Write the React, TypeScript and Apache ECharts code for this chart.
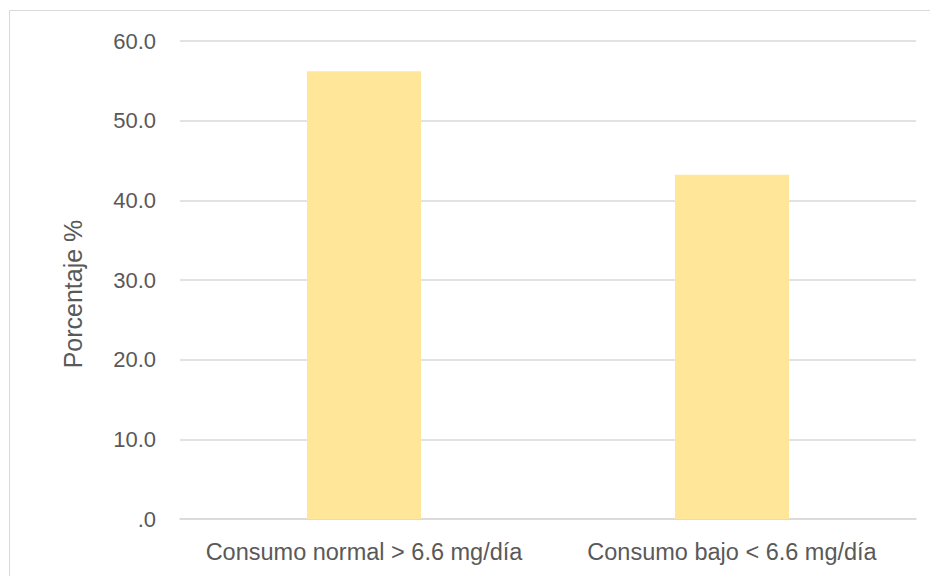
import React, { useEffect, useRef } from "react";
import * as echarts from "echarts";

const categories = ["Consumo normal > 6.6 mg/día", "Consumo bajo < 6.6 mg/día"];
const values = [56.2, 43.2];
const yTicks = [0, 10, 20, 30, 40, 50, 60];
const yAxisTitle = "Porcentaje %";

export default function App() {
  const ref = useRef<HTMLDivElement>(null);
  useEffect(() => {
    document.body.style.margin = "0";
    const chart = echarts.init(ref.current!, null, { renderer: "svg" });
    const font = "'Liberation Sans', Arial, sans-serif";
    chart.setOption({
      animation: false,
      backgroundColor: "#ffffff",
      grid: { left: 180, right: 14, top: 41, bottom: 57, containLabel: false },
      graphic: [
        {
          type: "rect",
          shape: { x: 9.5, y: 10.5, width: 940, height: 600 },
          style: { fill: "none", stroke: "#D9D9D9", lineWidth: 1 },
          silent: true,
        },
        {
          type: "text",
          x: 73,
          y: 294,
          rotation: Math.PI / 2,
          style: {
            text: yAxisTitle,
            fill: "#595959",
            font: `25px ${font}`,
            textAlign: "center",
            textVerticalAlign: "middle",
          },
        },
      ],
      xAxis: {
        type: "category",
        data: categories,
        axisLine: { show: true, lineStyle: { color: "#D9D9D9", width: 1.5 } },
        axisTick: { show: false },
        axisLabel: {
          color: "#595959",
          fontSize: 23.5,
          fontFamily: font,
          margin: 21,
          interval: 0,
        },
      },
      yAxis: {
        type: "value",
        min: yTicks[0],
        max: yTicks[yTicks.length - 1],
        interval: 10,
        axisLine: { show: false },
        axisTick: { show: false },
        splitLine: { lineStyle: { color: "#D9D9D9", width: 1.5 } },
        axisLabel: {
          color: "#595959",
          fontSize: 22,
          fontFamily: font,
          margin: 24,
          formatter: (v: number) => (v === 0 ? ".0" : v.toFixed(1)),
        },
      },
      series: [
        {
          type: "bar",
          data: values,
          barWidth: "31%",
          itemStyle: { color: "#FFE699" },
        },
      ],
    });
    return () => chart.dispose();
  }, []);
  return <div ref={ref} style={{ width: 930, height: 576 }} />;
}
